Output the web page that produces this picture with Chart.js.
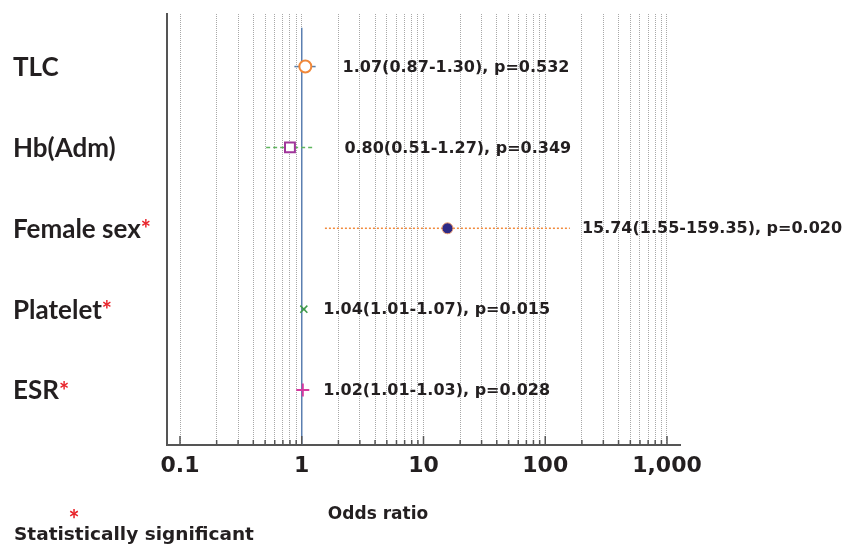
<!DOCTYPE html>
<html>
<head>
<meta charset="utf-8">
<script src="https://cdn.jsdelivr.net/npm/chart.js@4.4.1/dist/chart.umd.min.js"></script>
<style>
  html,body{margin:0;padding:0;background:#fff;}
  #wrap{width:848px;height:546px;position:relative;}
</style>
</head>
<body>
<div id="wrap"><canvas id="forest"></canvas></div>
<script>
// forest plot data
const rows = ['TLC', 'Hb(Adm)', 'Female sex', 'Platelet', 'ESR'];
const significant = [false, false, true, true, true];
const oddsRatio = [1.07, 0.80, 15.74, 1.04, 1.02];
const ciLow = [0.87, 0.51, 1.55, 1.01, 1.01];
const ciHigh = [1.30, 1.27, 159.35, 1.07, 1.03];
const pValues = ['0.532', '0.349', '0.020', '0.015', '0.028'];
const xTickValues = [0.1, 1, 10, 100, 1000];
const xTickLabels = ['0.1', '1', '10', '100', '1,000'];

const LABEL_FONT = 'Lato, "Open Sans", sans-serif';
const TEXT_FONT = '"DejaVu Sans", sans-serif';
const INK = '#231f20';
const RED = '#e8232a';

// row i sits at y = 5 - i (TLC on top)
const rowY = i => rows.length - i;

// marker + CI styles, one per row
const markerStyle = [
  {pointStyle:'circle', radius:6, bg:'#ffffff', border:'#f0883a', bw:2},
  {pointStyle:'rect', radius:7, bg:'#ffffff', border:'#a0369a', bw:2},
  {pointStyle:'circle', radius:5.5, bg:'#2e2a86', border:'#f0a070', bw:1},
  {pointStyle:'crossRot', radius:5, bg:'#3f9a4a', border:'#3f9a4a', bw:1.5},
  {pointStyle:'cross', radius:6.5, bg:'#d63aa0', border:'#d63aa0', bw:2}
];
const ciStyle = [
  {color:'#5a7fa8', dash:[], width:1.5},
  {color:'#5fb65f', dash:[4,3], width:1.5},
  {color:'#f08a3c', dash:[2,2], width:1.5},
  {color:'#3f9a4a', dash:[], width:1.5},
  {color:'#d63aa0', dash:[], width:1.5}
];
// pixel gap between CI end and the annotation text
const textGap = [27, 30, 12, 18, 20];

const datasets = [];
rows.forEach((r, i) => {
  const m = markerStyle[i];
  datasets.push({
    type:'scatter', label:r,
    data:[{x:oddsRatio[i], y:rowY(i)}],
    pointStyle:m.pointStyle, pointRadius:m.radius,
    backgroundColor:m.bg, borderColor:m.border, borderWidth:m.bw
  });
});
rows.forEach((r, i) => {
  const c = ciStyle[i];
  datasets.push({
    type:'line', label:r + ' CI',
    data:[{x:ciLow[i], y:rowY(i)}, {x:ciHigh[i], y:rowY(i)}],
    borderColor:c.color, borderDash:c.dash, borderWidth:c.width,
    pointRadius:0, fill:false
  });
});
// reference line at OR = 1
datasets.push({
  type:'line', label:'ref',
  data:[{x:1, y:0.32}, {x:1, y:5.48}],
  borderColor:'#5b7fb0', borderWidth:1.5, pointRadius:0
});

const decorPlugin = {
  id:'decor',
  afterDraw(chart){
    const ctx = chart.ctx, xs = chart.scales.x, ys = chart.scales.y;
    const bottom = chart.chartArea.bottom;
    ctx.save();
    // inside ticks on the x axis
    ctx.strokeStyle = '#555';
    ctx.lineWidth = 1.5;
    xs.ticks.forEach(t => {
      const px = xs.getPixelForValue(t.value);
      const len = t.major ? 9 : 5;
      ctx.beginPath();
      ctx.moveTo(px, bottom);
      ctx.lineTo(px, bottom - len);
      ctx.stroke();
    });
    // x tick labels
    ctx.fillStyle = INK;
    ctx.font = 'bold 22px ' + TEXT_FONT;
    ctx.textAlign = 'center';
    ctx.textBaseline = 'middle';
    xTickValues.forEach((v, k) => {
      ctx.fillText(xTickLabels[k], xs.getPixelForValue(v), 466);
    });
    // row labels with significance asterisk
    ctx.textAlign = 'left';
    rows.forEach((r, i) => {
      const py = ys.getPixelForValue(rowY(i));
      ctx.font = 'bold 26px ' + LABEL_FONT;
      ctx.fillStyle = INK;
      ctx.fillText(r, 13, py + 1);
      if (significant[i]) {
        const w = ctx.measureText(r).width;
        ctx.fillStyle = RED;
        ctx.font = 'bold 24px ' + LABEL_FONT;
        ctx.fillText('*', 13 + w, py + 2);
      }
    });
    // annotation texts
    ctx.fillStyle = INK;
    ctx.font = 'bold 16px ' + TEXT_FONT;
    rows.forEach((r, i) => {
      const txt = oddsRatio[i].toFixed(2) + '(' + ciLow[i].toFixed(2) + '-' + ciHigh[i].toFixed(2) + '), p=' + pValues[i];
      const px = xs.getPixelForValue(ciHigh[i]) + textGap[i];
      ctx.fillText(txt, px, ys.getPixelForValue(rowY(i)) + 1);
    });
    // axis title and legend
    ctx.font = 'bold 17px ' + TEXT_FONT;
    ctx.textAlign = 'center';
    ctx.fillText('Odds ratio', 378, 515);
    ctx.font = 'bold 18.5px ' + TEXT_FONT;
    ctx.textAlign = 'left';
    ctx.fillText('Statistically significant', 14, 535);
    ctx.fillStyle = RED;
    ctx.font = 'bold 26px ' + LABEL_FONT;
    ctx.textAlign = 'center';
    ctx.fillText('*', 74, 521);
    ctx.restore();
  }
};

new Chart(document.getElementById('forest'), {
  data:{datasets},
  options:{
    responsive:true, maintainAspectRatio:false, animation:false,
    layout:{padding:{left:167, right:168, top:14, bottom:101}},
    plugins:{legend:{display:false}, tooltip:{enabled:false}},
    scales:{
      x:{
        type:'logarithmic', min:0.0782, max:1279,
        afterBuildTicks(scale){
          const t = [];
          [0.1, 1, 10, 100].forEach(d => {
            for (let k = 1; k <= 9; k++) t.push({value:+(d*k).toPrecision(3), major:k === 1});
          });
          t.push({value:1000, major:true});
          scale.ticks = t;
        },
        ticks:{display:false},
        grid:{color:'#a8a8a8', lineWidth:1, drawTicks:false},
        border:{display:true, color:'#555', width:2, dash:[1,1]}
      },
      y:{
        type:'linear', min:0.32, max:5.65,
        ticks:{display:false},
        grid:{display:false, drawTicks:false},
        border:{display:true, color:'#555', width:2}
      }
    }
  },
  plugins:[decorPlugin]
});
</script>
</body>
</html>
